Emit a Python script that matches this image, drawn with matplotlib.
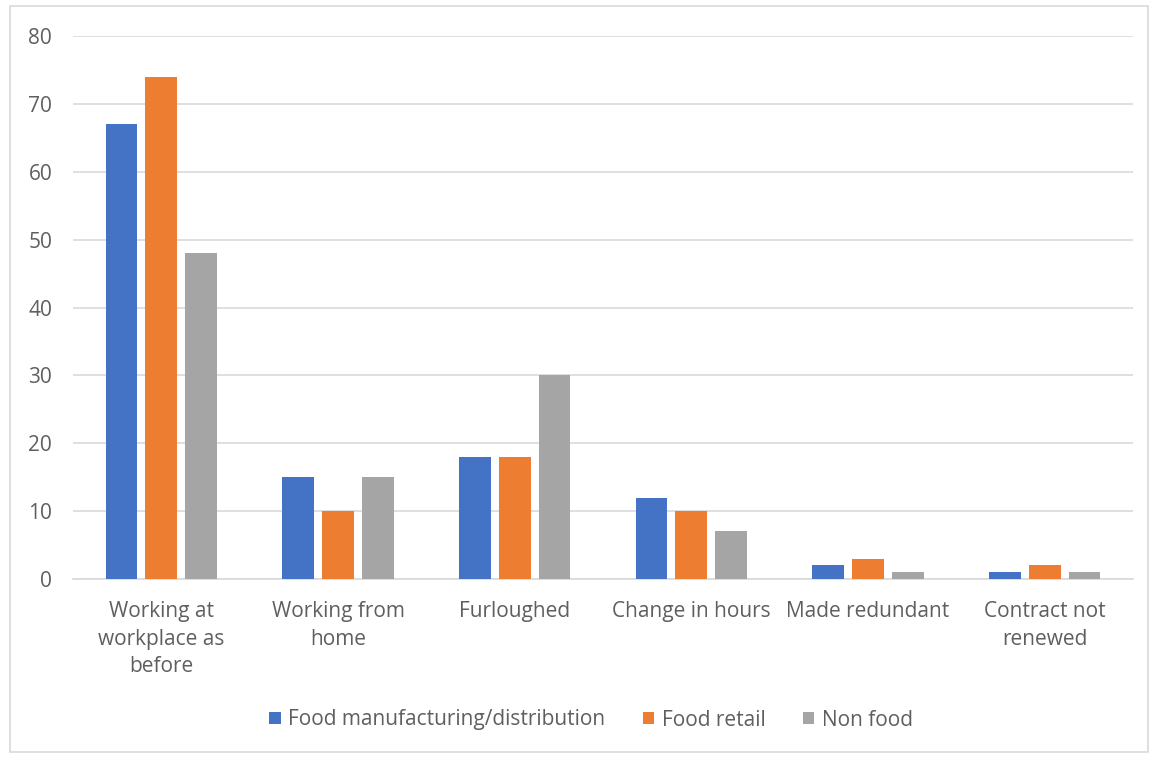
import matplotlib
matplotlib.use("Agg")
import matplotlib.pyplot as plt
import numpy as np
from matplotlib.patches import Rectangle

categories = ["Working at\nworkplace as\nbefore", "Working from\nhome", "Furloughed",
              "Change in hours", "Made redundant", "Contract not\nrenewed"]
series_names = ["Food manufacturing/distribution", "Food retail", "Non food"]
food_manufacturing = [67, 15, 18, 12, 2, 1]
food_retail = [74, 10, 18, 10, 3, 2]
non_food = [48, 15, 30, 7, 1, 1]
yticks = [0, 10, 20, 30, 40, 50, 60, 70, 80]

colors = ["#4472C4", "#ED7D31", "#A5A5A5"]
text_color = "#5f5f5f"
plt.rcParams["font.family"] = ["Open Sans", "DejaVu Sans"]

fig = plt.figure(figsize=(11.54, 7.57), dpi=100)
ax = fig.add_axes([73/1154, 1-579/757, (1133-73)/1154, (579-36)/757])

x = np.arange(len(categories))
bw = 0.18
gap = 0.045
offsets = [-(bw+gap), 0, bw+gap]
for vals, off, c, name in zip([food_manufacturing, food_retail, non_food], offsets, colors, series_names):
    ax.bar(x + off, vals, width=bw, color=c, label=name, zorder=3)

ax.set_xlim(-0.5, len(categories)-0.5)
ax.set_ylim(0, 80)
ax.set_yticks(yticks)
ax.set_yticklabels([str(v) for v in yticks])
ax.yaxis.grid(True, color="#D9D9D9", linewidth=1.2, zorder=0)
ax.set_xticks(x)
ax.set_xticklabels(categories, linespacing=1.4)
for s in ["top", "right", "left"]:
    ax.spines[s].set_visible(False)
ax.spines["bottom"].set_color("#D9D9D9")
ax.spines["bottom"].set_linewidth(1.2)
ax.tick_params(axis="both", length=0, colors=text_color, labelsize=15)
ax.tick_params(axis="y", pad=15)
ax.tick_params(axis="x", pad=16)

leg = fig.legend(loc="center", bbox_to_anchor=(591/1154, 1-720/757), ncol=3, frameon=False,
                 fontsize=15, handlelength=0.55, handleheight=0.55, handletextpad=0.35,
                 columnspacing=1.8, labelcolor=text_color)

fig.patches.append(Rectangle((10/1154, 1-752/757), (1148-10)/1154, (752-6)/757,
                             transform=fig.transFigure, fill=False, edgecolor="#D9D9D9",
                             linewidth=1.2))
fig.savefig("out.png", dpi=100, facecolor="white")
